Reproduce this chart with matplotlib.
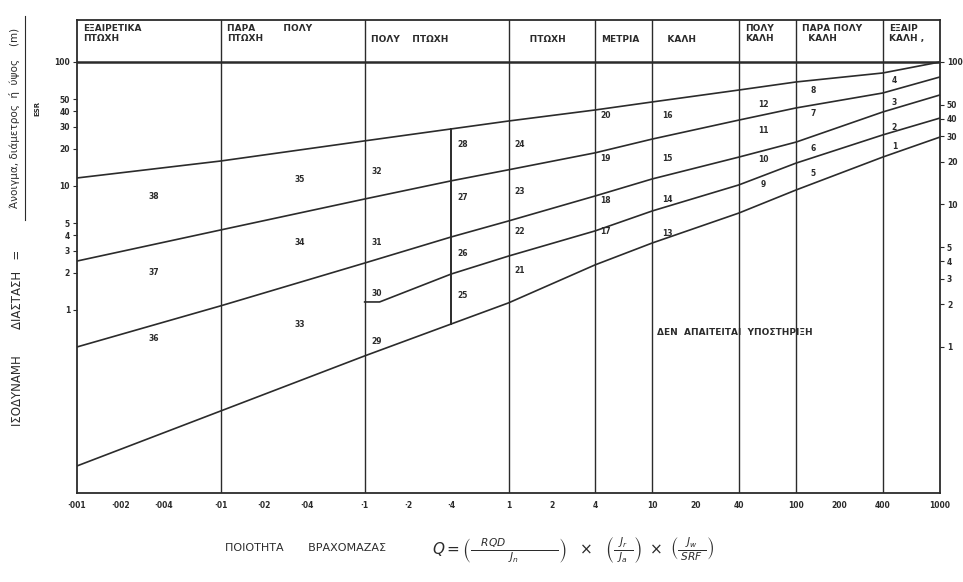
import matplotlib
matplotlib.use('Agg')
import matplotlib.pyplot as plt
import matplotlib.transforms as mtransforms
import numpy as np

# rock mass quality Q (x) and equivalent dimension De (y)
q_ticks = [0.001, 0.002, 0.004, 0.01, 0.02, 0.04, 0.1, 0.2, 0.4,
           1, 2, 4, 10, 20, 40, 100, 200, 400, 1000]
q_tick_labels = ['·001', '·002', '·004', '·01', '·02', '·04', '·1', '·2', '·4',
                 '1', '2', '4', '10', '20', '40', '100', '200', '400', '1000']
de_ticks = [1, 2, 3, 4, 5, 10, 20, 30, 40, 50, 100]
de_tick_labels = ['1', '2', '3', '4', '5', '10', '20', '30', '40', '50', '100']

class_left = [0.001, 0.01, 0.1, 1, 4, 10, 40, 100, 400]
class_names = ['ΕΞΑΙΡΕΤΙΚΑ\nΠΤΩΧΗ', 'ΠΑΡΑ         ΠΟΛΥ\nΠΤΩΧΗ', 'ΠΟΛΥ    ΠΤΩΧΗ',
               '     ΠΤΩΧΗ', 'ΜΕΤΡΙΑ', '   ΚΑΛΗ', 'ΠΟΛΥ\nΚΑΛΗ',
               'ΠΑΡΑ ΠΟΛΥ\n  ΚΑΛΗ', 'ΕΞΑΙΡ\nΚΑΛΗ ,']
class_bounds = [0.01, 0.1, 1, 4, 10, 40, 100, 400]

# support category boundary lines
line_a_q = [0.001, 0.01, 0.1, 1, 4, 10, 40, 100, 400, 1000]
line_a_de = [11.6, 15.9, 23.1, 33.4, 41.0, 47.6, 59.4, 69.0, 81.5, 100]
line_b_q = [0.001, 0.01, 0.1, 0.4, 1, 4, 10, 40, 100, 400, 1000]
line_b_de = [2.48, 4.42, 7.85, 11.0, 13.5, 18.5, 23.9, 34.0, 42.6, 56.2, 75.7]
line_c_q = [0.001, 0.01, 0.1, 0.4, 1, 4, 10, 40, 100, 400, 1000]
line_c_de = [0.503, 1.08, 2.39, 3.88, 5.22, 8.3, 11.4, 17.1, 22.6, 39.5, 54.2]
line_d_q = [0.1, 0.127, 0.4, 1, 4, 10, 40, 100, 400, 1000]
line_d_de = [1.16, 1.16, 1.95, 2.72, 4.34, 6.29, 10.2, 15.3, 25.8, 35.3]
line_e_q = [0.001, 0.1, 0.4, 1, 4, 10, 40, 100, 400, 1000]
line_e_de = [0.0552, 0.426, 0.771, 1.14, 2.31, 3.47, 6.05, 9.29, 17.1, 24.8]

# support category numbers and where they sit (Q, De)
cat_numbers = list(range(38, 0, -1))
cat_q = [0.0034, 0.0034, 0.0034, 0.0356, 0.0356, 0.0356,
         0.122, 0.122, 0.122, 0.122, 0.483, 0.483, 0.483, 0.483,
         1.2, 1.2, 1.2, 1.2, 4.7, 4.7, 4.7, 4.7, 12.7, 12.7, 12.7, 12.7,
         59, 59, 59, 59, 131, 131, 131, 131, 481, 481, 481, 481]
cat_de = [8.15, 2.02, 0.594, 11.2, 3.53, 0.757,
          13.2, 3.53, 1.37, 0.552, 21.4, 8.0, 2.83, 1.32,
          21.4, 8.95, 4.33, 2.1, 36.7, 16.8, 7.7, 4.33, 36.7, 16.5, 7.8, 4.1,
          45, 27.8, 16.2, 10.2, 58.4, 38.1, 20.2, 12.7, 70.3, 46.7, 29.4, 21.0]

ink = '#2b2b2b'
plt.rcParams['font.family'] = ['DejaVu Sans']

fig = plt.figure(figsize=(9.63, 5.82), dpi=100)
ax = fig.add_axes([77 / 963, 89 / 582, 863 / 963, 473 / 582])
ax.set_xscale('log')
ax.set_yscale('log')
ax.set_xlim(0.001, 1000)
ax.set_ylim(0.0334, 218)

for q, de in [(line_a_q, line_a_de), (line_b_q, line_b_de), (line_c_q, line_c_de),
              (line_d_q, line_d_de), (line_e_q, line_e_de)]:
    ax.plot(q, de, color=ink, lw=1.2)

# vertical class boundaries (full height) and the short one at Q = 0.4
for b in class_bounds:
    ax.axvline(b, color=ink, lw=1.0)
top04 = 10 ** np.interp(np.log10(0.4), np.log10(line_a_q), np.log10(line_a_de))
bot04 = 10 ** np.interp(np.log10(0.4), np.log10(line_e_q), np.log10(line_e_de))
ax.plot([0.4, 0.4], [bot04, top04], color=ink, lw=1.4)
ax.axhline(100, color=ink, lw=1.8)

for sp in ax.spines.values():
    sp.set_color(ink)
    sp.set_linewidth(1.3)

# header row text
hdr = mtransforms.blended_transform_factory(ax.transData, ax.transAxes)
for left, name in zip(class_left, class_names):
    two = '\n' in name
    ax.text(left * 1.1, 0.992 if two else 0.958, name, transform=hdr, fontsize=6.5,
            color=ink, va='top' if two else 'center', ha='left',
            linespacing=1.15, fontweight='bold')

for n, q, de in zip(cat_numbers, cat_q, cat_de):
    ax.text(q, de, str(n), fontsize=5.5, color=ink, ha='center', va='center',
            fontweight='bold')

ax.text(10.8, 0.653, 'ΔΕΝ  ΑΠΑΙΤΕΙΤΑΙ  ΥΠΟΣΤΗΡΙΞΗ', fontsize=6.5, color=ink,
        ha='left', va='center', fontweight='bold')

ax.set_xticks(q_ticks)
ax.set_xticklabels(q_tick_labels)
ax.xaxis.set_minor_locator(matplotlib.ticker.NullLocator())
ax.set_yticks(de_ticks)
ax.set_yticklabels(de_tick_labels)
ax.yaxis.set_minor_locator(matplotlib.ticker.NullLocator())
ax.tick_params(axis='x', length=0, pad=6, labelsize=5.5, colors=ink)
ax.tick_params(axis='y', length=3, pad=2, labelsize=5.5, colors=ink, width=0.8)
for lbl in ax.get_xticklabels() + ax.get_yticklabels():
    lbl.set_fontweight('bold')

# right scale drawn with its own spacing
ax2 = ax.twinx()
ax2.set_yscale('log')
ax2.set_ylim(0.0944, 197)
ax2.set_yticks(de_ticks)
ax2.set_yticklabels(de_tick_labels)
ax2.yaxis.set_minor_locator(matplotlib.ticker.NullLocator())
ax2.tick_params(axis='y', length=3, pad=2, labelsize=5.5, colors=ink, width=0.8)
for lbl in ax2.get_yticklabels():
    lbl.set_fontweight('bold')
for sp in ax2.spines.values():
    sp.set_visible(False)

# y label: equivalent dimension = span / ESR
fig.text(18 / 963, 1 - 338 / 582, 'ΙΣΟΔΥΝΑΜΗ       ΔΙΑΣΤΑΣΗ   =', rotation=90,
         fontsize=8.5, color=ink, ha='center', va='center')
fig.text(15 / 963, 1 - 118 / 582, 'Άνοιγμα, διάμετρος  ή  ύψος    (m)', rotation=90,
         fontsize=7.5, color=ink, ha='center', va='center')
fig.add_artist(plt.Line2D([25 / 963, 25 / 963], [1 - 220 / 582, 1 - 16 / 582],
                          color=ink, lw=0.8, transform=fig.transFigure))
fig.text(37 / 963, 1 - 108 / 582, 'ESR', rotation=90, fontsize=5, color=ink,
         ha='center', va='center', fontweight='bold')

# x label with Q formula
fig.text(305 / 963, 1 - 548 / 582, 'ΠΟΙΟΤΗΤΑ       ΒΡΑΧΟΜΑΖΑΣ', fontsize=8,
         color=ink, ha='center', va='center')
fig.text(432 / 963, 1 - 550 / 582,
         r'$Q = \left(\frac{\quad RQD \qquad\qquad\quad}{J_n}\right)\ \ \times\ \ '
         r'\left(\frac{\;\;J_r\;\;}{J_a}\right)\ \times\ '
         r'\left(\frac{\;\;\;J_w\;\;\;}{SRF}\right)$',
         fontsize=11, color=ink, ha='left', va='center')

fig.savefig('out.png', dpi=100)
